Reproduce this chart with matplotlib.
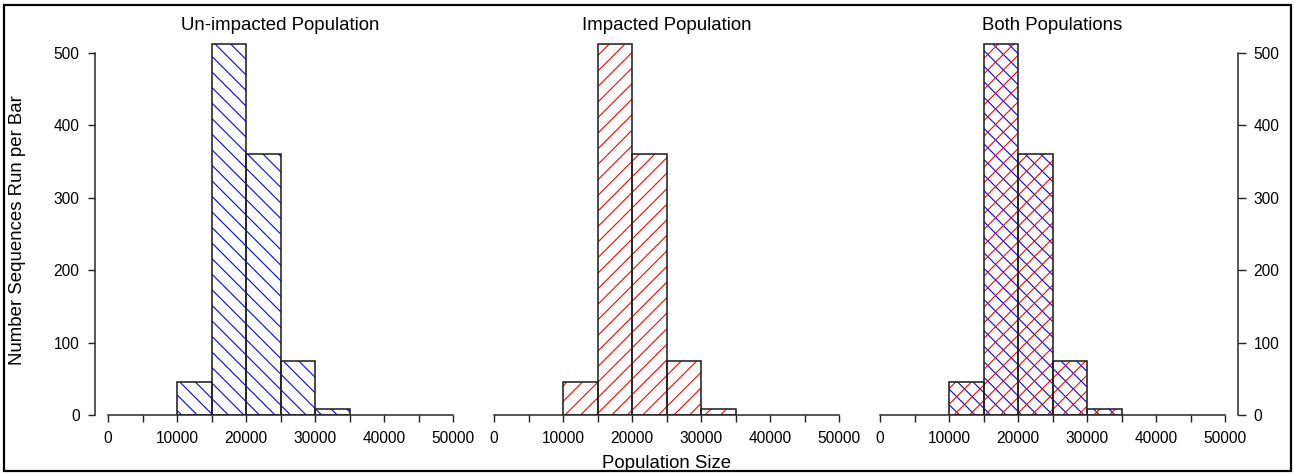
import matplotlib
matplotlib.use('Agg')
import matplotlib.pyplot as plt
from matplotlib.patches import Rectangle

# histogram data
bin_left = [10000, 15000, 20000, 25000, 30000]
bin_width = 5000
unimpacted_counts = [45, 513, 360, 75, 8]
impacted_counts = [45, 513, 360, 75, 8]
both_counts = [45, 513, 360, 75, 8]

titles = ["Un-impacted Population", "Impacted Population", "Both Populations"]
x_major = [0, 10000, 20000, 30000, 40000, 50000]
x_minor = [5000, 15000, 25000, 35000, 45000]
y_ticks = [0, 100, 200, 300, 400, 500]

W, H = 1295, 475
DPI = 140.0  # chosen so the hatch spacing comes out like the original


def pt(px):
    # pixels -> points at this dpi
    return px * 72.0 / DPI


plt.rcParams['font.family'] = ['Liberation Sans', 'DejaVu Sans']
plt.rcParams['hatch.linewidth'] = pt(1.1)

fig = plt.figure(figsize=(W / DPI, H / DPI), dpi=DPI)

px_per_unit = 0.724
ymax = 525
panel_left = [108, 494, 880]
panel_width = 345

# hatch layers per panel: (hatch, colour)
hatches = [[('\\\\\\', 'blue')], [('///', 'red')], [('\\\\\\', 'blue'), ('///', 'red')]]
counts_list = [unimpacted_counts, impacted_counts, both_counts]

tick_fs = pt(15.5)
label_fs = pt(18.7)

for i in range(3):
    ax = fig.add_axes([panel_left[i] / W, 60 / H, panel_width / W, ymax * px_per_unit / H])
    counts = counts_list[i]
    for h, c in hatches[i]:
        ax.bar(bin_left, counts, width=bin_width, align='edge', fill=False,
               hatch=h, edgecolor=c, linewidth=0)
    ax.bar(bin_left, counts, width=bin_width, align='edge', fill=False,
           edgecolor='#222222', linewidth=pt(1.6))
    ax.set_xlim(0, 50000)
    ax.set_ylim(0, ymax)

    ax.spines['top'].set_visible(False)
    ax.spines['bottom'].set_bounds(0, 50000)
    ax.spines['bottom'].set_color('#222222')
    ax.spines['bottom'].set_linewidth(pt(1.5))
    ax.set_xticks(x_major)
    ax.set_xticklabels([str(v) for v in x_major])
    ax.set_xticks(x_minor, minor=True)
    ax.tick_params(axis='x', which='both', length=pt(6.5), width=pt(1.4), color='#222222',
                   labelsize=tick_fs, pad=pt(9.5))

    if i == 0:
        ax.spines['right'].set_visible(False)
        side = 'left'
    elif i == 1:
        ax.spines['right'].set_visible(False)
        ax.spines['left'].set_visible(False)
        ax.set_yticks([])
        side = None
    else:
        ax.spines['left'].set_visible(False)
        ax.yaxis.tick_right()
        side = 'right'
    if side:
        ax.spines[side].set_position(('outward', pt(13)))
        ax.spines[side].set_bounds(0, 500)
        ax.spines[side].set_color('#222222')
        ax.spines[side].set_linewidth(pt(1.5))
        ax.set_yticks(y_ticks)
        ax.tick_params(axis='y', length=pt(7.5), width=pt(1.4), color='#222222',
                       labelsize=tick_fs, pad=pt(8))

    fig.text((panel_left[i] + panel_width / 2) / W, 1 - 26 / H, titles[i],
             ha='center', va='center', fontsize=label_fs)

fig.text(18 / W, 1 - 230 / H, "Number Sequences Run per Bar", rotation=90,
         ha='center', va='center', fontsize=label_fs)
fig.text(667 / W, 1 - 463 / H, "Population Size", ha='center', va='center', fontsize=label_fs)

# outer frame round the whole picture
fig.patches.append(Rectangle((4 / W, 4 / H), 1287 / W, 466 / H, transform=fig.transFigure,
                             fill=False, edgecolor='black', linewidth=pt(2.2)))

fig.savefig('out.png', dpi=DPI)
